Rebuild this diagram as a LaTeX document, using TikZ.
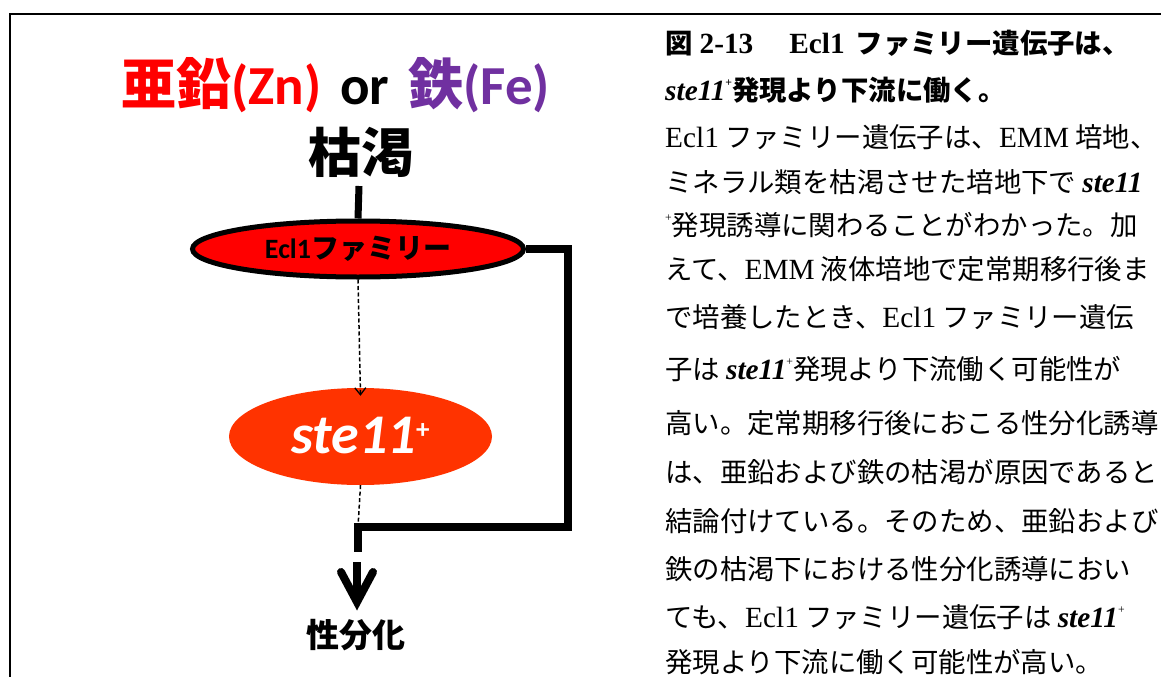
\documentclass[tikz,border=0pt]{standalone}
\usepackage{fontspec}
\setmainfont{Liberation Serif}
\newfontfamily\jpf{Noto Sans CJK JP}
\newfontfamily\calf{Carlito}
\newfontfamily\serf{Liberation Serif}[Scale=1.07]
\usetikzlibrary{shapes.geometric,arrows.meta}
\definecolor{znred}{HTML}{FF0000}
\definecolor{fepurple}{HTML}{7030A0}
\definecolor{steorange}{HTML}{FF3300}
\newcommand\plussup{\raisebox{0.5em}{\serf\fontsize{11}{11}\selectfont +}}
\newcommand\stegene{{\serf\bfseries\itshape ste11}}
\newcommand\lat[1]{{\serf #1}}
\tikzset{
  x=1pt, y=-1pt,
  frame/.style={line width=2.5pt},
  thickconn/.style={line width=7.5pt, line join=miter},
  dashconn/.style={line width=1.5pt, dash pattern=on 4pt off 2.5pt},
  bodyline/.style={anchor=base west, inner sep=0pt, font=\jpf\fontsize{27.4}{30}\selectfont},
  titleline/.style={anchor=base west, inner sep=0pt, font=\jpf\bfseries\fontsize{27.4}{30}\selectfont},
  bigjp/.style={anchor=base, inner sep=0pt, font=\jpf\bfseries\fontsize{55}{55}\selectfont},
}
\begin{document}
\begin{tikzpicture}
\useasboundingbox (0,0) rectangle (1161,677);
% frame
\coordinate (fTL) at (10,14);
\coordinate (fTR) at (1161,14);
\coordinate (fBL) at (10,677);
\draw[frame] (fTR) -- (fTL) -- (fBL);

% left diagram
\node[bigjp] (title) at (335.5,104) {{\color{znred}亜鉛{\calf(Zn)}}\hspace{19pt}{\calf or}\hspace{19pt}{\color{fepurple}鉄{\calf(Fe)}}};
\node[anchor=base, inner sep=0pt, font=\jpf\bfseries\fontsize{53}{53}\selectfont] (kokatsu) at (361,172) {枯渇};

\node[ellipse, draw=black, line width=5pt, fill=znred, inner sep=0pt,
      minimum width=331pt, minimum height=56pt,
      font=\jpf\bfseries\fontsize{28}{28}\selectfont] (ecl) at (358,249) {{\calf Ecl1}ファミリー};

\node[ellipse, fill=steorange, inner sep=0pt, minimum width=263pt, minimum height=97pt,
      text=white, text height=33pt, text depth=0pt] (ste) at (360.5,436.5)
      {{\calf\bfseries\itshape\fontsize{56}{56}\selectfont ste11}\raisebox{15pt}{\calf\bfseries\fontsize{27}{27}\selectfont +}};

\node[anchor=base, inner sep=0pt, font=\jpf\bfseries\fontsize{33}{33}\selectfont] (sei) at (356,647) {性分化};

% connectors
\coordinate (stemtop) at (359,186);
\draw[line width=7pt] (stemtop) -- (ecl.north);
\coordinate (loopcorner) at (568,527);
\coordinate (loopjoin) at (358,527);
\coordinate (stubend) at (358,552);
\draw[thickconn] (ecl.east) -| (loopcorner) -- (loopjoin) -- (stubend);
\draw[dashconn, -{Straight Barb[length=7pt,width=11pt,line width=1.3pt]}] (ecl.south) -- ([yshift=-8pt]ste.north);
\draw[dashconn] (ste.south) -- (loopjoin);
% final arrow
\coordinate (arrtop) at (357,562);
\coordinate (arrtip) at (357,602);
\coordinate (wingL) at (341,572);
\coordinate (wingR) at (373,572);
\draw[line width=8pt] (arrtop) -- (arrtip);
\draw[line width=8pt, line cap=round, line join=miter] (wingL) -- (arrtip) -- (wingR);

% right text
\node[titleline] (r1) at (665,53) {図\hspace{7pt}\lat{2-13}\hspace{36pt}\lat{Ecl1}\hspace{11pt}ファミリー遺伝子は、};
\node[titleline] (r2) at (665,100) {\stegene\plussup 発現より下流に働く。};
\node[bodyline] (r3) at (665,147) {\lat{Ecl1} ファミリー遺伝子は、\lat{EMM} 培地、};
\node[bodyline] (r4) at (665,192) {ミネラル類を枯渇させた培地下で \stegene};
\node[bodyline] (r5) at (665,235) {\plussup 発現誘導に関わることがわかった。加};
\node[bodyline] (r6) at (665,279) {えて、\lat{EMM} 液体培地で定常期移行後ま};
\node[bodyline] (r7) at (665,327) {で培養したとき、\lat{Ecl1} ファミリー遺伝};
\node[bodyline] (r8) at (665,379) {子は \stegene\plussup 発現より下流働く可能性が};
\node[bodyline] (r9) at (665,433) {高い。定常期移行後におこる性分化誘導};
\node[bodyline] (r10) at (665,482) {は、亜鉛および鉄の枯渇が原因であると};
\node[bodyline] (r11) at (665,531) {結論付けている。そのため、亜鉛および};
\node[bodyline] (r12) at (665,579) {鉄の枯渇下における性分化誘導におい};
\node[bodyline] (r13) at (665,627) {ても、\lat{Ecl1} ファミリー遺伝子は \stegene\plussup};
\node[bodyline] (r14) at (665,672) {発現より下流に働く可能性が高い。};
\end{tikzpicture}
\end{document}
